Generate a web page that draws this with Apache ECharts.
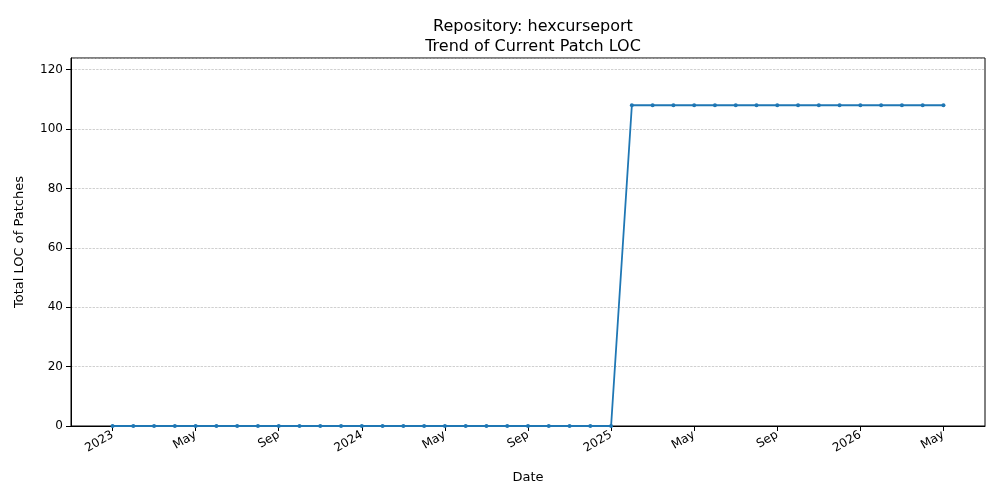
<!DOCTYPE html>
<html><head><meta charset="utf-8">
<script src="https://cdn.jsdelivr.net/npm/echarts@6/dist/echarts.min.js"></script>
<style>body{margin:0}#c{width:1000px;height:500px}</style></head>
<body><div id="c"></div>
<script>
// months from 2022-11 to 2026-07 (padding months at ends have no data)
const months = [];
for (let y = 2022, m = 11; y < 2026 || (y === 2026 && m <= 7); ) {
  months.push(y + '-' + String(m).padStart(2, '0'));
  m++; if (m > 12) { m = 1; y++; }
}
const zeroMonths = 25;   // 2023-01 .. 2025-01 at 0
const highMonths = 16;   // 2025-02 .. 2026-05 at 108
const highValue = 108;
const values = [null, null];
for (let i = 0; i < zeroMonths; i++) values.push(0);
for (let i = 0; i < highMonths; i++) values.push(highValue);
values.push(null, null);
const monthNames = ['Jan','Feb','Mar','Apr','May','Jun','Jul','Aug','Sep','Oct','Nov','Dec'];

const chart = echarts.init(document.getElementById('c'));
chart.setOption({
  animation: false,
  title: { text: 'Repository: hexcurseport\nTrend of Current Patch LOC', left: 528, top: 12, textAlign: 'center',
    textStyle: { fontFamily: 'DejaVu Sans', fontSize: 16, fontWeight: 'normal', color: '#000', lineHeight: 20 } },
  grid: { left: 71, right: 15, top: 58, bottom: 74, show: true, borderColor: '#000', borderWidth: 1 },
  xAxis: {
    type: 'category', data: months, boundaryGap: false,
    name: 'Date', nameLocation: 'middle', nameGap: 45,
    nameTextStyle: { fontFamily: 'DejaVu Sans', fontSize: 13, color: '#000' },
    axisLine: { lineStyle: { color: '#000' } },
    axisTick: { interval: (i, v) => (parseInt(v.slice(5)) - 1) % 4 === 0, lineStyle: { color: '#000' } },
    axisLabel: { interval: (i, v) => (parseInt(v.slice(5)) - 1) % 4 === 0, rotate: 30,
      fontFamily: 'DejaVu Sans', fontSize: 12, color: '#000',
      formatter: v => { const m = parseInt(v.slice(5)); return m === 1 ? v.slice(0, 4) : monthNames[m - 1]; } },
    splitLine: { show: false }
  },
  yAxis: {
    type: 'value', min: 0, max: 123.9, interval: 20,
    name: 'Total LOC of Patches', nameLocation: 'middle', nameGap: 45,
    nameTextStyle: { fontFamily: 'DejaVu Sans', fontSize: 13, color: '#000' },
    axisLine: { show: true, lineStyle: { color: '#000' } },
    axisTick: { show: true, lineStyle: { color: '#000' } },
    axisLabel: { fontFamily: 'DejaVu Sans', fontSize: 12, color: '#000', showMaxLabel: false },
    splitLine: { lineStyle: { type: 'dashed', color: '#b0b0b0', width: 0.6 } }
  },
  series: [{
    type: 'line', data: values, connectNulls: false,
    lineStyle: { color: '#1f77b4', width: 1.8 },
    itemStyle: { color: '#1f77b4' }, symbol: 'circle', symbolSize: 4
  }]
});
</script></body></html>
